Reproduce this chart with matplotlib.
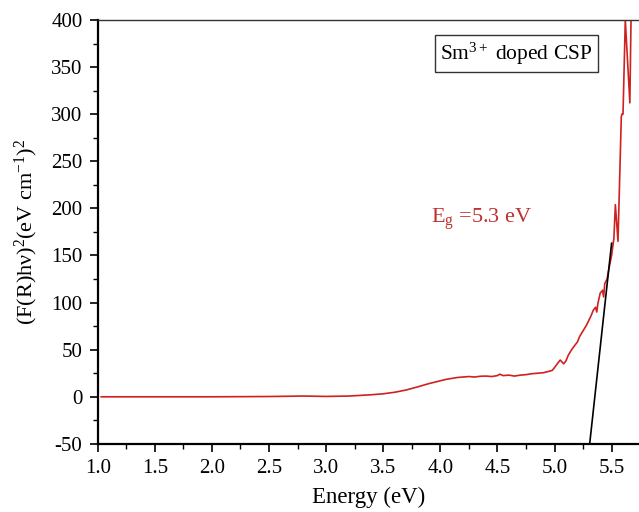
import matplotlib
matplotlib.use("Agg")
import matplotlib.pyplot as plt
from matplotlib.ticker import MultipleLocator, FormatStrFormatter

plt.rcParams['font.family'] = ['Liberation Serif', 'DejaVu Serif']
plt.rcParams['mathtext.fontset'] = 'custom'
plt.rcParams['mathtext.rm'] = 'Liberation Serif'
plt.rcParams['mathtext.it'] = 'Liberation Serif:italic'
plt.rcParams['axes.unicode_minus'] = False

# Data
energy = [1.03, 1.5, 2.0, 2.5, 2.8, 3.0, 3.2, 3.3, 3.4, 3.5, 3.6, 3.7, 3.8, 3.9,
          3.95, 4.0, 4.05, 4.1, 4.15, 4.2, 4.25, 4.3, 4.35, 4.4, 4.45, 4.5, 4.52,
          4.55, 4.6, 4.65, 4.7, 4.75, 4.8, 4.85, 4.9, 4.95, 4.98, 5.0, 5.03, 5.05,
          5.08, 5.1, 5.12, 5.15, 5.18, 5.2, 5.22, 5.25, 5.28, 5.3, 5.32, 5.34,
          5.36, 5.37, 5.38, 5.4, 5.42, 5.43, 5.44, 5.46, 5.48, 5.5, 5.52, 5.533,
          5.556, 5.585, 5.59, 5.6, 5.62, 5.66, 5.67, 5.68]
fr_hv2 = [0.0, 0.0, 0.0, 0.3, 0.8, 0.4, 0.8, 1.5, 2.2, 3.2, 4.8, 7.2, 10.5, 14.0,
          15.5, 17.0, 18.5, 19.5, 20.5, 21.0, 21.5, 21.0, 21.8, 22.0, 21.5, 22.5,
          24.0, 22.5, 23.0, 22.0, 23.0, 23.5, 24.5, 25.0, 25.5, 27.0, 28.0, 31.0,
          36.0, 39.0, 35.0, 38.0, 44.0, 50.0, 55.0, 58.0, 64.0, 70.0, 76.0, 81.0,
          86.0, 92.0, 95.0, 90.0, 99.0, 110.0, 113.0, 106.0, 120.0, 125.0, 138.0,
          150.0, 168.0, 204.0, 165.0, 297.0, 300.0, 300.0, 400.0, 312.0, 400.0, 400.0]

fit_x = [5.308, 5.50]
fit_y = [-50.0, 163.0]

xlim = (1.0, 5.74)
ylim = (-50, 400)

fig = plt.figure(figsize=(6.39, 5.12), dpi=100)
ax = fig.add_axes([0.153, 0.133, 0.847, 0.828])

ax.plot(energy, fr_hv2, color='#d02020', lw=1.2)
ax.plot(fit_x, fit_y, color='black', lw=1.2)

ax.set_xlim(*xlim)
ax.set_ylim(*ylim)
ax.xaxis.set_major_locator(MultipleLocator(0.5))
ax.xaxis.set_minor_locator(MultipleLocator(0.25))
ax.yaxis.set_major_locator(MultipleLocator(50))
ax.yaxis.set_minor_locator(MultipleLocator(25))
ax.xaxis.set_major_formatter(FormatStrFormatter('%.1f'))

ax.tick_params(which='major', direction='out', length=6, width=1.2, labelsize=15, pad=5)
ax.tick_params(which='minor', direction='out', length=3.5, width=1.0)
ax.tick_params(top=False, right=False)

ax.spines['right'].set_visible(False)
ax.spines['top'].set_linewidth(1.0)
ax.spines['top'].set_color('#333333')
ax.spines['left'].set_linewidth(1.6)
ax.spines['bottom'].set_linewidth(1.6)

ax.set_xlabel('Energy (eV)', fontsize=16.5, labelpad=6)
ax.set_ylabel(r'(F(R)hν)$^2$(eV cm$^{-1}$)$^2$', fontsize=16, labelpad=8)

ax.text(0.773, 0.921, r'Sm$^{3+}$ doped CSP', transform=ax.transAxes,
        fontsize=15.5, ha='center', va='center',
        bbox=dict(boxstyle='square,pad=0.25', fc='white', ec='#333333', lw=1.0))

ax.text(4.36, 188, r'E$_\mathrm{g}$ =5.3 eV', color='#c03030', fontsize=16,
        ha='center', va='center')

fig.savefig('out.png', dpi=100)
